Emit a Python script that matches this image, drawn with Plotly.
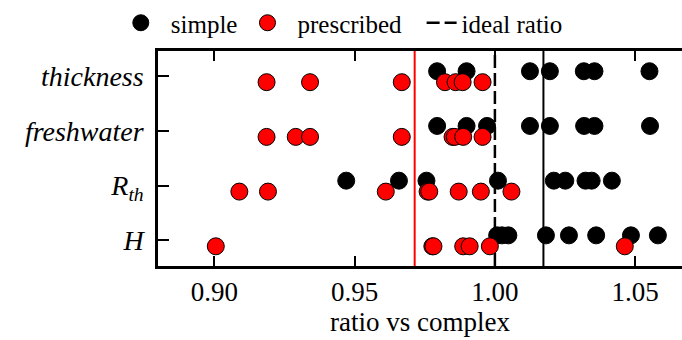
import plotly.graph_objects as go

# ---- data ----
categories = ["H", "R_th", "freshwater", "thickness"]
category_labels = ["<i>H</i>", "<i>R</i><sub><i>th</i></sub>", "<i>freshwater</i>", "<i>thickness</i>"]

simple_H = [1.0008, 1.0025, 1.0048, 1.0182, 1.0264, 1.0361, 1.0485, 1.0581]
simple_Rth = [0.9470, 0.9658, 0.9756, 1.0011, 1.0210, 1.0251, 1.0323, 1.0345, 1.0417]
simple_fresh = [0.9794, 0.9899, 0.9972, 1.0125, 1.0196, 1.0318, 1.0355, 1.0553]
simple_thick = [0.9794, 0.9899, 1.0125, 1.0196, 1.0317, 1.0355, 1.0551]

presc_H = [0.9005, 0.9777, 0.9781, 0.9887, 0.9910, 0.9982, 1.0463]
presc_Rth = [0.9089, 0.9191, 0.9611, 0.9760, 0.9766, 0.9871, 0.9950, 1.0059]
presc_fresh = [0.9186, 0.9290, 0.9341, 0.9668, 0.9849, 0.9857, 0.9887, 0.9956]
presc_thick = [0.9186, 0.9341, 0.9668, 0.9822, 0.9860, 0.9885, 0.9956]

simple_all = [simple_H, simple_Rth, simple_fresh, simple_thick]
presc_all = [presc_H, presc_Rth, presc_fresh, presc_thick]

ideal_ratio = 1.0
simple_mean_line = 1.0173
presc_mean_line = 0.9714

x_ticks = [0.90, 0.95, 1.00, 1.05]
x_tick_labels = ["0.90", "0.95", "1.00", "1.05"]

legend_names = ["simple", "prescribed", "ideal ratio"]

# vertical offsets of the two groups within a category row
simple_offset = 0.09
presc_offset = -0.11

FONT = "Liberation Serif"
TS = "\u2009"
PAD = TS + TS

sx, sy, px, py = [], [], [], []
for i, (s, p) in enumerate(zip(simple_all, presc_all)):
    sx += s
    sy += [i + simple_offset] * len(s)
    px += p
    py += [i + presc_offset] * len(p)

fig = go.Figure()

# mean lines (no legend)
fig.add_shape(type="line", xref="x", yref="paper", x0=presc_mean_line, x1=presc_mean_line,
              y0=0, y1=1, line=dict(color="#ff0000", width=2), layer="below")
fig.add_shape(type="line", xref="x", yref="paper", x0=simple_mean_line, x1=simple_mean_line,
              y0=0, y1=1, line=dict(color="black", width=2), layer="below")

fig.add_trace(go.Scatter(
    x=sx, y=sy, mode="markers", name=PAD + legend_names[0] + TS,
    marker=dict(color="black", size=17, line=dict(color="black", width=1)),
))
fig.add_trace(go.Scatter(
    x=px, y=py, mode="markers", name=PAD + legend_names[1] + PAD + TS,
    marker=dict(color="#ff0000", size=17, line=dict(color="black", width=1)),
))
fig.add_shape(type="line", xref="x", yref="paper", x0=ideal_ratio, x1=ideal_ratio,
              y0=0, y1=1, line=dict(color="black", width=2.5, dash="13px,5px"),
              layer="below", showlegend=True, name=legend_names[2], legendrank=1000)

fig.update_layout(
    width=682, height=340,
    margin=dict(l=158, r=0, t=47, b=74),
    paper_bgcolor="white", plot_bgcolor="white",
    font=dict(family=FONT, size=27, color="black"),
    showlegend=True,
    legend=dict(orientation="h", x=-0.071, xanchor="left", y=1.131, yanchor="middle",
                font=dict(size=25, family=FONT), bgcolor="rgba(0,0,0,0)",
                itemwidth=30, tracegroupgap=0),
    xaxis=dict(
        range=[0.8799, 1.0667], tickvals=x_ticks, ticktext=x_tick_labels,
        ticks="inside", ticklen=10, tickwidth=1.5, tickcolor="black",
        showline=True, linewidth=2.5, linecolor="black", mirror="ticks",
        showgrid=False, zeroline=False,
        title=dict(text="ratio vs complex", font=dict(size=27, family=FONT), standoff=6),
        tickfont=dict(size=27, family=FONT),
    ),
    yaxis=dict(
        range=[-0.47, 3.46], tickvals=[0, 1, 2, 3], ticktext=category_labels,
        ticks="inside", ticklen=11, tickwidth=1.5, tickcolor="black",
        showline=True, linewidth=2.5, linecolor="black", mirror=False,
        showgrid=False, zeroline=False, ticklabelstandoff=6,
        tickfont=dict(size=28, family=FONT),
    ),
)

fig.write_html("out.html")
